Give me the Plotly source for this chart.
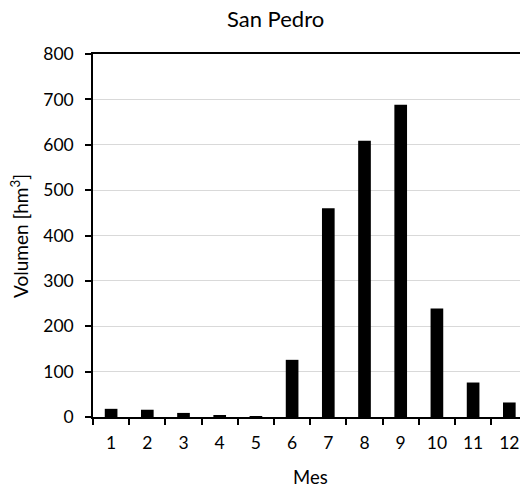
import plotly.graph_objects as go

months = ["1", "2", "3", "4", "5", "6", "7", "8", "9", "10", "11", "12"]
volumen = [18, 16, 9, 4, 2, 126, 460, 609, 688, 239, 76, 32]
y_ticks = [0, 100, 200, 300, 400, 500, 600, 700, 800]

W, H = 520, 487
L, R, T, B = 93, 0, 54, 70
plot_w = W - L - R
cat_px = 36.2
x_hi = -0.5 + plot_w / cat_px

FONT = "Lato"

fig = go.Figure(
    go.Bar(x=months, y=volumen, marker=dict(color="black", line=dict(width=0)), width=0.35)
)

fig.update_layout(
    width=W, height=H,
    margin=dict(l=L, r=R, t=T, b=B),
    plot_bgcolor="white", paper_bgcolor="white",
    font=dict(family=FONT, size=17, color="black"),
    showlegend=False,
    bargap=0.65,
)
fig.update_xaxes(
    type="category", range=[-0.5, x_hi],
    showline=True, linecolor="black", linewidth=1.5, mirror=True,
    ticks="outside", ticklen=6, tickcolor="black", tickwidth=1.5,
    tickson="boundaries", showgrid=False, ticklabelstandoff=9,
    tickfont=dict(family=FONT, size=17.5, color="black"),
)
fig.update_yaxes(
    range=[0, 800], tickvals=y_ticks,
    showline=True, linecolor="black", linewidth=1.5,
    ticks="outside", ticklen=6, tickcolor="black", tickwidth=1.5,
    showgrid=True, gridcolor="#d9d9d9", gridwidth=1.2,
    zeroline=False, ticklabelstandoff=8,
    tickfont=dict(family=FONT, size=17.5, color="black"),
)

def px_x(p):
    return (p - L) / plot_w

def px_y(p):
    return (H - B - p) / (H - T - B)

fig.add_annotation(text="San Pedro", x=px_x(275), y=px_y(18), xref="paper", yref="paper",
                   showarrow=False, font=dict(family=FONT, size=22, color="black"),
                   xanchor="center", yanchor="middle")
fig.add_annotation(text="Mes", x=px_x(310), y=px_y(477), xref="paper", yref="paper",
                   showarrow=False, font=dict(family=FONT, size=18.5, color="black"),
                   xanchor="center", yanchor="middle")
fig.add_annotation(text="Volumen [hm<sup>3</sup>]", x=px_x(20), y=px_y(236), xref="paper", yref="paper",
                   showarrow=False, textangle=-90, font=dict(family=FONT, size=19, color="black"),
                   xanchor="center", yanchor="middle")

fig.write_html(
    "out.html",
    config={"displayModeBar": False},
    post_script="document.body.style.margin='0';document.body.style.overflow='hidden';",
)
